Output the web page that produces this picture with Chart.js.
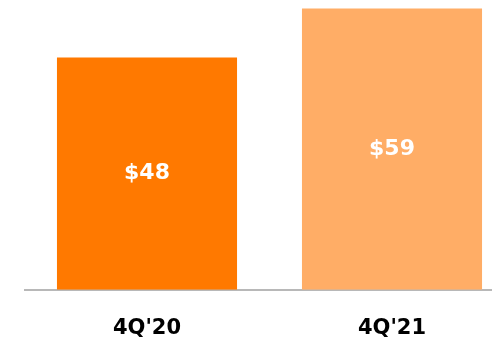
<!DOCTYPE html>
<html>
<head>
<meta charset="utf-8">
<script src="https://cdn.jsdelivr.net/npm/chart.js@4"></script>
<style>
  html, body { margin: 0; padding: 0; background: #fff; overflow: hidden; }
  #wrap { width: 492px; height: 341px; overflow: hidden; }
</style>
</head>
<body>
<div id="wrap">
  <canvas id="revenueChart" width="515" height="341"></canvas>
</div>
<script>
const quarters = ["4Q'20", "4Q'21"];
const revenue = [48.4, 58.6];
const barColors = ["#ff7900", "#ffad66"];

// draws "$48" style labels in the middle of each bar
const barValueLabels = {
  id: "barValueLabels",
  afterDatasetsDraw(chart) {
    const ctx = chart.ctx;
    const meta = chart.getDatasetMeta(0);
    ctx.save();
    ctx.font = "bold 22px 'DejaVu Sans'";
    ctx.fillStyle = "#ffffff";
    ctx.textAlign = "center";
    ctx.textBaseline = "middle";
    meta.data.forEach((bar, i) => {
      const { x, y, base } = bar.getProps(["x", "y", "base"], true);
      ctx.fillText("$" + Math.round(revenue[i]), x, (y + base) / 2);
    });
    ctx.restore();
  },
};

new Chart(document.getElementById("revenueChart"), {
  type: "bar",
  data: {
    labels: quarters,
    datasets: [
      {
        data: revenue,
        backgroundColor: barColors,
        borderWidth: 0,
        categoryPercentage: 1,
        barPercentage: 0.735,
      },
    ],
  },
  options: {
    responsive: false,
    animation: false,
    layout: {
      padding: { top: 1.7, left: 24.5, right: 0.5, bottom: -26 },
    },
    plugins: {
      legend: { display: false },
      tooltip: { enabled: false },
    },
    scales: {
      x: {
        grid: { display: false, drawTicks: false },
        border: { display: true, color: "#b8b8b8", width: 2 },
        ticks: {
          color: "#000000",
          padding: 26,
          font: { family: "'DejaVu Sans'", size: 21, weight: "bold" },
        },
      },
      y: {
        display: false,
        min: 0,
        max: 60,
      },
    },
  },
  plugins: [barValueLabels],
});
</script>
</body>
</html>
